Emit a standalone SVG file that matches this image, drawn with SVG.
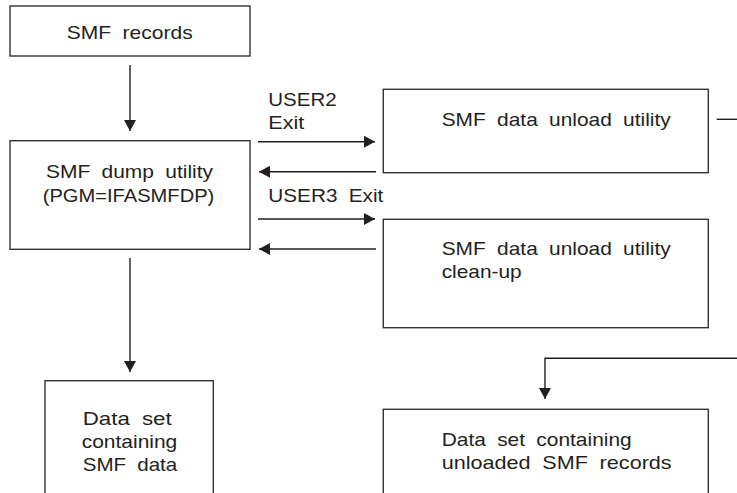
<svg xmlns="http://www.w3.org/2000/svg" width="737" height="493" viewBox="0 0 737 493">
<style>
.box{fill:#fff;stroke:#333;stroke-width:1.4}
.ln{fill:none;stroke:#231f20;stroke-width:1.4}
.t{font-family:"Liberation Sans",Arial,sans-serif;font-size:19px;fill:#231f20;word-spacing:5px}
</style>
<defs>
<marker id="ah" markerUnits="userSpaceOnUse" markerWidth="11" markerHeight="12" refX="11" refY="6" orient="auto" viewBox="0 0 11 12">
<path d="M0,0 L11,6 L0,12 z" fill="#231f20"/>
</marker>
</defs>
<rect width="737" height="493" fill="#fff"/>
<g id="connectors">
<line class="ln" x1="130" y1="65" x2="130" y2="131" marker-end="url(#ah)"/>
<line class="ln" x1="258" y1="141.7" x2="375" y2="141.7" marker-end="url(#ah)"/>
<line class="ln" x1="376" y1="171.7" x2="259" y2="171.7" marker-end="url(#ah)"/>
<line class="ln" x1="258" y1="219" x2="375" y2="219" marker-end="url(#ah)"/>
<line class="ln" x1="376" y1="249" x2="259" y2="249" marker-end="url(#ah)"/>
<line class="ln" x1="130" y1="258" x2="130" y2="372" marker-end="url(#ah)"/>
<line class="ln" x1="716.7" y1="119.3" x2="740" y2="119.3"/>
<polyline class="ln" points="740,358.3 545,358.3 545,399" marker-end="url(#ah)"/>
<text class="t" x="268.3" y="105.7" textLength="68.4" lengthAdjust="spacingAndGlyphs">USER2</text>
<text class="t" x="268.3" y="128.5" textLength="36" lengthAdjust="spacingAndGlyphs">Exit</text>
<text class="t" x="268.3" y="201.5" textLength="115" lengthAdjust="spacingAndGlyphs">USER3 Exit</text>
</g>
<g id="smf-records">
<rect class="box" x="10" y="6" width="240" height="50"/>
<text class="t" x="66.7" y="39" textLength="126" lengthAdjust="spacingAndGlyphs">SMF records</text>
</g>
<g id="smf-dump">
<rect class="box" x="10" y="140.7" width="240" height="108.6"/>
<text class="t" x="46" y="178" textLength="167" lengthAdjust="spacingAndGlyphs">SMF dump utility</text>
<text class="t" x="42.7" y="201.5" textLength="171.6" lengthAdjust="spacingAndGlyphs">(PGM=IFASMFDP)</text>
</g>
<g id="unload-utility">
<rect class="box" x="383.3" y="89.3" width="325" height="83.4"/>
<text class="t" x="441.7" y="125.7" textLength="229" lengthAdjust="spacingAndGlyphs">SMF data unload utility</text>
</g>
<g id="unload-cleanup">
<rect class="box" x="383.3" y="219.3" width="325" height="108.4"/>
<text class="t" x="441.7" y="255" textLength="229" lengthAdjust="spacingAndGlyphs">SMF data unload utility</text>
<text class="t" x="441.7" y="278" textLength="80" lengthAdjust="spacingAndGlyphs">clean-up</text>
</g>
<g id="dataset-smf">
<rect class="box" x="45" y="380.7" width="168.3" height="130"/>
<text class="t" x="82.7" y="425" textLength="89" lengthAdjust="spacingAndGlyphs">Data set</text>
<text class="t" x="81.7" y="448" textLength="95.6" lengthAdjust="spacingAndGlyphs">containing</text>
<text class="t" x="82.7" y="471" textLength="94.6" lengthAdjust="spacingAndGlyphs">SMF data</text>
</g>
<g id="dataset-unloaded">
<rect class="box" x="383.3" y="409.3" width="325" height="110"/>
<text class="t" x="441.7" y="445.7" textLength="190" lengthAdjust="spacingAndGlyphs">Data set containing</text>
<text class="t" x="441.7" y="469" textLength="230" lengthAdjust="spacingAndGlyphs">unloaded SMF records</text>
</g>
</svg>
